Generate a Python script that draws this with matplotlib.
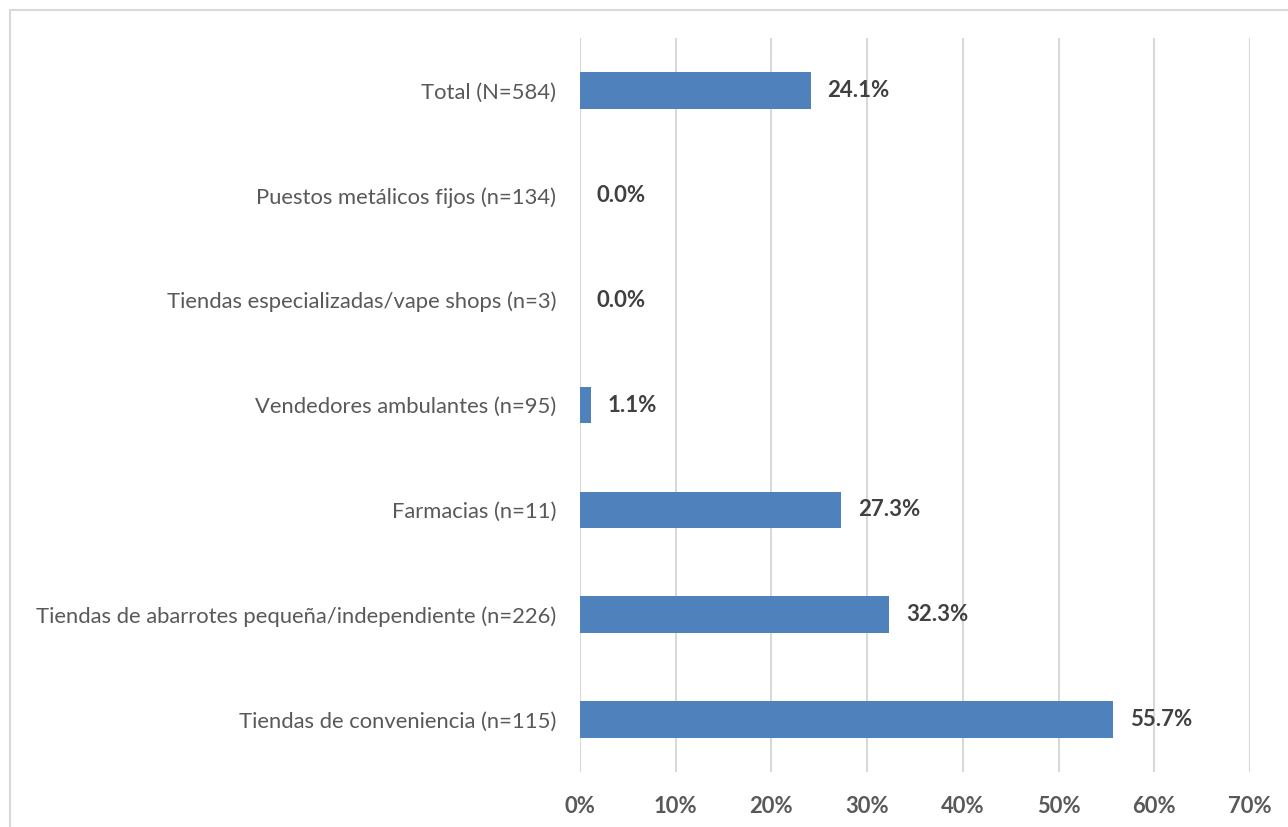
import matplotlib
matplotlib.use("Agg")
import matplotlib.pyplot as plt
from matplotlib.patches import Rectangle

categories = [
    "Total (N=584)",
    "Puestos metálicos fijos (n=134)",
    "Tiendas especializadas/vape shops (n=3)",
    "Vendedores ambulantes (n=95)",
    "Farmacias (n=11)",
    "Tiendas de abarrotes pequeña/independiente (n=226)",
    "Tiendas de conveniencia (n=115)",
]
values = [24.1, 0.0, 0.0, 1.1, 27.3, 32.3, 55.7]
xticks = [0, 10, 20, 30, 40, 50, 60, 70]
xtick_labels = ["0%", "10%", "20%", "30%", "40%", "50%", "60%", "70%"]

plt.rcParams['font.family'] = ['Lato', 'DejaVu Sans']

fig = plt.figure(figsize=(12.88, 8.27), dpi=100)
fig.patches.append(Rectangle((10/1288, -0.01), 1.02, 1 - 10/827 + 0.01,
                             transform=fig.transFigure, fill=False,
                             edgecolor="#D9D9D9", linewidth=1.5))
ax = fig.add_axes([580/1288, 1 - 772/827, 670/1288, 734/827])

ypos = list(range(len(categories)))
ax.barh(ypos, values, height=0.35, color="#4F81BD", zorder=3)
ax.set_ylim(len(categories) - 0.5, -0.5)
ax.set_xlim(0, 70)
ax.set_yticks(ypos)
ax.set_yticklabels(categories, fontsize=15.8, color="#595959")
ax.set_xticks(xticks)
ax.set_xticklabels(xtick_labels, fontsize=15.8, color="#595959", fontweight="bold")
ax.tick_params(axis="both", length=0)
ax.tick_params(axis="x", pad=17)
ax.tick_params(axis="y", pad=17)
ax.grid(axis="x", color="#D9D9D9", linewidth=1.5, zorder=0)
for s in ax.spines.values():
    s.set_visible(False)

for y, v in zip(ypos, values):
    ax.annotate(f"{v:.1f}%", (v, y), xytext=(12, 0), textcoords="offset points",
                va="center", ha="left", fontsize=16, fontweight="bold", color="#404040")

fig.savefig("out.png", dpi=100)
